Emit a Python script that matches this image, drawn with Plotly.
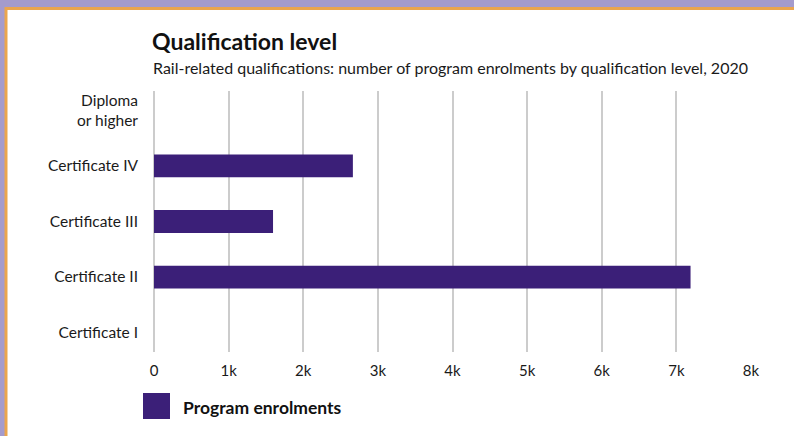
import plotly.graph_objects as go

categories = ["Certificate I", "Certificate II", "Certificate III", "Certificate IV", "Diploma<br>or higher"]
enrolments = [0, 7190, 1595, 2665, 0]
series_name = "Program enrolments"
title_text = "Qualification level"
subtitle_text = "Rail-related qualifications: number of program enrolments by qualification level, 2020"
tick_vals = [0, 1000, 2000, 3000, 4000, 5000, 6000, 7000, 8000]
tick_text = ["0", "1k", "2k", "3k", "4k", "5k", "6k", "7k", "8k"]

BAR = "#3b1f78"
FONT = "Lato, 'Open Sans', sans-serif"

W, H = 794, 436
L, R, T, B = 154, 43, 91, 84
PW, PH = W - L - R, H - T - B

def px(x):
    return (x - L) / PW

def py(y):
    return (H - B - y) / PH

fig = go.Figure()
fig.add_trace(go.Bar(
    y=categories, x=enrolments, orientation="h",
    marker=dict(color=BAR, line=dict(width=0)),
    name=series_name, showlegend=False,
))

fig.update_layout(
    width=W, height=H,
    margin=dict(l=L, r=R, t=T, b=B, autoexpand=False),
    paper_bgcolor="#a49bcc",
    plot_bgcolor="rgba(0,0,0,0)",
    bargap=0.59,
    font=dict(family=FONT, size=15, color="#1a1a1a"),
    xaxis=dict(range=[0, 8000], tickvals=tick_vals, ticktext=tick_text,
               showgrid=True, gridcolor="#cccccc", gridwidth=1.5,
               zeroline=True, zerolinecolor="#cccccc", zerolinewidth=1.5,
               showline=False, ticks="", ticklabelstandoff=8,
               tickfont=dict(size=15, color="#1a1a1a"),
               fixedrange=True),
    yaxis=dict(type="category", categoryorder="array", categoryarray=categories,
               range=[-0.35, 4.35],
               showgrid=False, zeroline=False, showline=False, ticks="",
               ticklabelstandoff=15,
               tickfont=dict(size=15.5, color="#1a1a1a"), fixedrange=True),
    shapes=[
        dict(type="rect", xref="paper", yref="paper",
             x0=px(6), x1=px(W + 20), y0=py(H + 20), y1=py(8.5),
             fillcolor="white", line=dict(color="#eaa54e", width=3), layer="below"),
        dict(type="rect", xref="paper", yref="paper",
             x0=px(143), x1=px(170), y0=py(419), y1=py(393),
             fillcolor=BAR, line=dict(width=0)),
    ],
    annotations=[
        dict(text="<b>" + title_text + "</b>", xref="paper", yref="paper",
             x=px(150), y=py(41), xanchor="left", yanchor="middle", showarrow=False,
             font=dict(family=FONT, size=23, color="#111111")),
        dict(text=subtitle_text, xref="paper", yref="paper",
             x=px(151), y=py(68), xanchor="left", yanchor="middle", showarrow=False,
             font=dict(family=FONT, size=16, color="#1a1a1a")),
        dict(text="<b>" + series_name + "</b>", xref="paper", yref="paper",
             x=px(181), y=py(407), xanchor="left", yanchor="middle", showarrow=False,
             font=dict(family=FONT, size=17.5, color="#111111")),
    ],
)

fig.write_html("out.html", config={"displayModeBar": False},
               post_script="document.body.style.margin='0';document.body.style.overflow='hidden';")
